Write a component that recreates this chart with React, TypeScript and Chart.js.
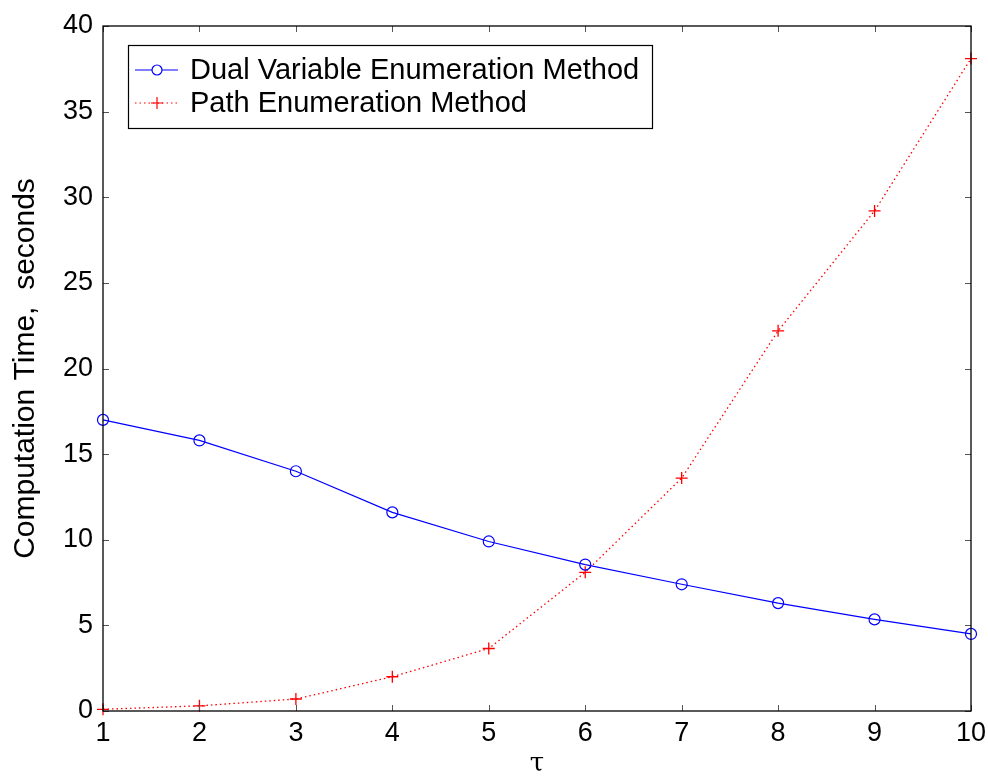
import React, { useEffect, useRef } from "react";
import { Chart, registerables } from "chart.js";

Chart.register(...registerables);

const tauValues = [1, 2, 3, 4, 5, 6, 7, 8, 9, 10];
const dualVariable = [17.0, 15.8, 14.0, 11.6, 9.9, 8.55, 7.4, 6.3, 5.35, 4.5];
const pathEnum = [0.1, 0.3, 0.7, 2.0, 3.65, 8.1, 13.6, 22.2, 29.2, 38.1];
const yTicks = [0, 5, 10, 15, 20, 25, 30, 35, 40];
const seriesNames = ["Dual Variable Enumeration Method", "Path Enumeration Method"];

const FONT = "'Liberation Sans', Arial, sans-serif";

const framePlugin = {
  id: "frameTicks",
  afterDatasetsDraw(chart: any) {
    const { ctx, chartArea: a, scales } = chart;
    const x = scales.x;
    const y = scales.y;
    ctx.save();
    ctx.strokeStyle = "#555";
    ctx.lineWidth = 1;
    const tl = 6;
    tauValues.forEach((v) => {
      const px = Math.round(x.getPixelForValue(v)) + 0.5;
      ctx.beginPath();
      ctx.moveTo(px, a.bottom);
      ctx.lineTo(px, a.bottom - tl);
      ctx.moveTo(px, a.top);
      ctx.lineTo(px, a.top + tl);
      ctx.stroke();
    });
    yTicks.forEach((v) => {
      const py = Math.round(y.getPixelForValue(v)) + 0.5;
      ctx.beginPath();
      ctx.moveTo(a.left, py);
      ctx.lineTo(a.left + tl, py);
      ctx.moveTo(a.right, py);
      ctx.lineTo(a.right - tl, py);
      ctx.stroke();
    });
    ctx.strokeStyle = "#000";
    ctx.lineWidth = 1.3;
    ctx.strokeRect(a.left, a.top, a.right - a.left, a.bottom - a.top);

    // legend
    const lx = a.left + 25;
    const ly = a.top + 19;
    const lw = 524;
    const lh = 83;
    ctx.fillStyle = "#fff";
    ctx.fillRect(lx, ly, lw, lh);
    ctx.strokeStyle = "#000";
    ctx.lineWidth = 1.2;
    ctx.strokeRect(lx + 0.5, ly + 0.5, lw, lh);
    const rows = [ly + 25, ly + 58];
    // blue entry
    ctx.strokeStyle = "blue";
    ctx.lineWidth = 1.2;
    ctx.beginPath();
    ctx.moveTo(lx + 7, rows[0]);
    ctx.lineTo(lx + 50, rows[0]);
    ctx.stroke();
    ctx.fillStyle = "#fff";
    ctx.beginPath();
    ctx.arc(lx + 29, rows[0], 5, 0, Math.PI * 2);
    ctx.fill();
    ctx.stroke();
    // red entry
    ctx.strokeStyle = "red";
    ctx.setLineDash([1.5, 3]);
    ctx.beginPath();
    ctx.moveTo(lx + 7, rows[1]);
    ctx.lineTo(lx + 50, rows[1]);
    ctx.stroke();
    ctx.setLineDash([]);
    ctx.beginPath();
    ctx.moveTo(lx + 23, rows[1]);
    ctx.lineTo(lx + 35, rows[1]);
    ctx.moveTo(lx + 29, rows[1] - 6);
    ctx.lineTo(lx + 29, rows[1] + 6);
    ctx.stroke();
    ctx.fillStyle = "#000";
    ctx.font = `29px ${FONT}`;
    ctx.textBaseline = "middle";
    ctx.textAlign = "left";
    ctx.fillText(seriesNames[0], lx + 62, rows[0] + 1);
    ctx.fillText(seriesNames[1], lx + 62, rows[1] + 1);
    ctx.restore();
  },
};

export default function App() {
  const ref = useRef<HTMLCanvasElement | null>(null);
  useEffect(() => {
    document.body.style.margin = "0";
    const chart = new Chart(ref.current as HTMLCanvasElement, {
      type: "line",
      data: {
        datasets: [
          {
            label: seriesNames[0],
            data: tauValues.map((t, i) => ({ x: t, y: dualVariable[i] })),
            borderColor: "blue",
            borderWidth: 1.2,
            pointStyle: "circle",
            pointRadius: 5.5,
            pointBorderColor: "blue",
            pointBackgroundColor: "rgba(255,255,255,0)",
            pointBorderWidth: 1.2,
            tension: 0,
          },
          {
            label: seriesNames[1],
            data: tauValues.map((t, i) => ({ x: t, y: pathEnum[i] })),
            borderColor: "red",
            borderWidth: 1.3,
            borderDash: [1.5, 3],
            pointStyle: "cross",
            pointRadius: 6,
            pointBorderColor: "red",
            pointBorderWidth: 1.3,
            tension: 0,
          },
        ],
      },
      options: {
        animation: false,
        responsive: false,
        clip: false as any,
        layout: { padding: { top: 26, right: 17, left: 8, bottom: 0 } },
        plugins: { legend: { display: false }, tooltip: { enabled: false } },
        scales: {
          x: {
            type: "linear",
            min: 1,
            max: 10,
            grid: { display: false, drawTicks: false },
            border: { display: false },
            afterBuildTicks: (s: any) => {
              s.ticks = tauValues.map((v) => ({ value: v }));
            },
            afterFit: (s: any) => {
              s.height = 65;
              s.paddingLeft = 0;
              s.paddingRight = 0;
            },
            ticks: {
              color: "#000",
              font: { family: FONT, size: 27 },
              padding: 6,
              maxRotation: 0,
            },
            title: {
              display: true,
              text: "τ",
              color: "#000",
              font: { family: "'DejaVu Serif', 'Liberation Serif', serif", size: 26 },
              padding: { top: 0, bottom: -4 },
            },
          },
          y: {
            type: "linear",
            min: 0,
            max: 40,
            grid: { display: false, drawTicks: false },
            border: { display: false },
            afterBuildTicks: (s: any) => {
              s.ticks = yTicks.map((v) => ({ value: v }));
            },
            afterFit: (s: any) => {
              s.width = 95;
              s.paddingTop = 0;
              s.paddingBottom = 0;
            },
            ticks: {
              color: "#000",
              font: { family: FONT, size: 27 },
              padding: 10,
            },
            title: {
              display: true,
              text: "Computation Time,  seconds",
              color: "#000",
              font: { family: FONT, size: 30 },
              padding: { top: 0, bottom: 6 },
            },
          },
        },
      },
      plugins: [framePlugin],
    });
    return () => chart.destroy();
  }, []);
  return (
    <div style={{ position: "absolute", left: 0, top: 0, width: 988, height: 776, background: "#fff" }}>
      <canvas ref={ref} width={988} height={776} />
    </div>
  );
}
